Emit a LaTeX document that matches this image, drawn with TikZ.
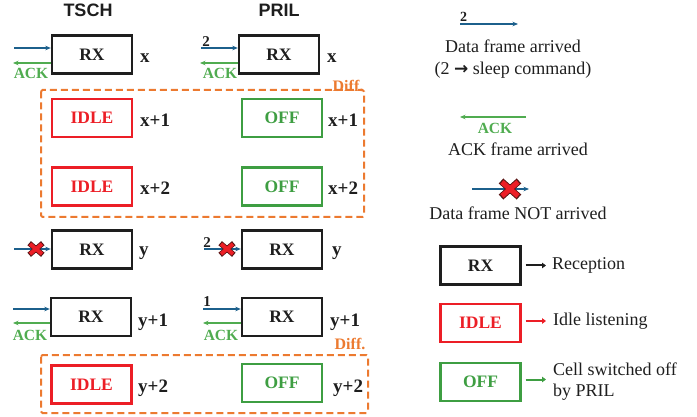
\documentclass[tikz,border=0pt]{standalone}
\usepackage{fontspec}
\setmainfont{Liberation Serif}
\newfontfamily\headfont{Liberation Sans}
\newfontfamily\symfont{DejaVu Sans}
\usetikzlibrary{arrows.meta,calc}
\definecolor{dblue}{RGB}{28,96,140}
\definecolor{ackgreen}{RGB}{80,172,80}
\definecolor{idred}{RGB}{236,30,38}
\definecolor{offgreen}{RGB}{62,158,66}
\definecolor{difforange}{RGB}{236,122,48}
\definecolor{boxblack}{RGB}{30,30,30}
\definecolor{xdark}{RGB}{90,20,20}
\tikzset{
  box/.style={draw, line width=2.4pt, minimum width=80pt, minimum height=38pt, inner sep=0pt, font=\fontsize{17.5}{20}\selectfont\bfseries},
  rxbox/.style={box, draw=boxblack, text=boxblack},
  idlebox/.style={box, draw=idred, text=idred},
  offbox/.style={box, draw=offgreen, text=offgreen},
  slot/.style={anchor=base west, inner sep=0pt, font=\fontsize{19}{22}\selectfont\bfseries, text=boxblack},
  head/.style={font=\headfont\fontsize{18}{20}\selectfont\bfseries, text=boxblack},
  data/.style={draw=dblue, line width=1.3pt, -{Stealth[length=5.5pt,width=4.5pt]}},
  ack/.style={draw=ackgreen, line width=1.3pt, -{Stealth[length=5.5pt,width=4.5pt]}},
  acklbl/.style={text=ackgreen, inner sep=0pt, font=\fontsize{15.5}{18}\selectfont\bfseries},
  numlbl/.style={text=boxblack, inner sep=0pt, font=\fontsize{15}{18}\selectfont\bfseries},
  diffbox/.style={draw=difforange, line width=2pt, dash pattern=on 7pt off 4pt, rounded corners=1.5pt},
  difflbl/.style={text=difforange, inner sep=0pt, font=\fontsize{16}{18}\selectfont\bfseries},
  legtxt/.style={text=boxblack, inner sep=0pt, font=\fontsize{18}{22}\selectfont},
  legarr/.style={line width=2pt, -{Triangle[length=4pt,width=5.5pt]}},
  xmark/.pic={
    \draw[line width=5.4pt, draw=xdark] (-6.8,-5.8) -- (6.8,5.8) (-6.8,5.8) -- (6.8,-5.8);
    \draw[line width=3.8pt, draw=idred] (-6,-5) -- (6,5) (-6,5) -- (6,-5);
  },
  bigxmark/.pic={
    \draw[line width=6.8pt, draw=xdark] (-9,-8) -- (9,8) (-9,8) -- (9,-8);
    \draw[line width=5pt, draw=idred] (-8,-7) -- (8,7) (-8,7) -- (8,-7);
  }
}
\begin{document}
\begin{tikzpicture}[x=1pt,y=-1pt]
\useasboundingbox (0,0) rectangle (697,417);

% headings
\node[head] (hT) at (88,10) {TSCH};
\node[head] (hP) at (279,10) {PRIL};

% difference boxes
\draw[diffbox] (41,90) rectangle (364,217);
\draw[diffbox] (41,355) rectangle (368,413);
\node[difflbl] (d1) at (348,86) {Diff.};
\node[difflbl] (d2) at (350,344) {Diff.};

% boxes TSCH
\node[rxbox]   (t0) at (92,54.5) {RX};
\node[idlebox] (t1) at (92,118) {IDLE};
\node[idlebox] (t2) at (92,186.5) {IDLE};
\node[rxbox]   (t3) at (92,249.5) {RX};
\node[rxbox]   (t4) at (91,317) {RX};
\node[idlebox] (t5) at (91.5,384.5) {IDLE};
% boxes PRIL
\node[rxbox]   (p0) at (279,54.5) {RX};
\node[offbox]  (p1) at (282,118) {OFF};
\node[offbox]  (p2) at (282,186.5) {OFF};
\node[rxbox]   (p3) at (282,249.5) {RX};
\node[rxbox]   (p4) at (282,317) {RX};
\node[offbox]  (p5) at (282,383) {OFF};

% slot labels
\node[slot] (lt0) at (140,63) {x};
\node[slot] (lt1) at (140,127) {x+1};
\node[slot] (lt2) at (140,195) {x+2};
\node[slot] (lt3) at (139,256) {y};
\node[slot] (lt4) at (138,326) {y+1};
\node[slot] (lt5) at (138,392) {y+2};
\node[slot] (lp0) at (327,63) {x};
\node[slot] (lp1) at (328,127) {x+1};
\node[slot] (lp2) at (328,195) {x+2};
\node[slot] (lp3) at (332,256) {y};
\node[slot] (lp4) at (330,326) {y+1};
\node[slot] (lp5) at (333,392) {y+2};

% row x arrows
\coordinate (t0in) at (14,48);
\coordinate (t0ack) at (13,63);
\draw[data] (t0in) -- (t0.west |- t0in);
\draw[ack] (t0.west |- t0ack) -- (t0ack);
\node[acklbl] (t0a) at (31,73) {ACK};

\coordinate (p0in) at (201,48);
\coordinate (p0ack) at (200,63);
\draw[data] (p0in) -- (p0.west |- p0in);
\draw[ack] (p0.west |- p0ack) -- (p0ack);
\node[numlbl] (p0n) at (206,42) {2};
\node[acklbl] (p0a) at (220,73) {ACK};

% row y arrows
\coordinate (t3in) at (14,249);
\draw[data] (t3in) -- (t3.west |- t3in);
\pic at (36,249) {xmark};

\coordinate (p3in) at (204,249);
\draw[data] (p3in) -- (p3.west |- p3in);
\node[numlbl] (p3n) at (207,243) {2};
\pic at (227,249) {xmark};

% row y+1 arrows
\coordinate (t4in) at (13,309);
\coordinate (t4ack) at (13,323);
\draw[data] (t4in) -- (t4.west |- t4in);
\draw[ack] (t4.west |- t4ack) -- (t4ack);
\node[acklbl] (t4a) at (30,335) {ACK};

\coordinate (p4in) at (203,309);
\coordinate (p4ack) at (203,323);
\draw[data] (p4in) -- (p4.west |- p4in);
\draw[ack] (p4.west |- p4ack) -- (p4ack);
\node[numlbl] (p4n) at (207,302) {1};
\node[acklbl] (p4a) at (221,335) {ACK};

% legend
\coordinate (g1s) at (460,24);
\coordinate (g1e) at (518,24);
\draw[data] (g1s) -- (g1e);
\node[numlbl, font=\fontsize{14}{16}\selectfont\bfseries] (g1n) at (463.5,17) {2};
\node[legtxt, align=center] (g1t) at (513,59) {Data frame arrived\\(2 {\symfont\bfseries\fontsize{17}{20}\selectfont →} sleep command)};

\coordinate (g2s) at (526,117);
\coordinate (g2e) at (460,117);
\draw[ack] (g2s) -- (g2e);
\node[acklbl] (g2a) at (495,128) {ACK};
\node[legtxt] (g2t) at (518,149) {ACK frame arrived};

\coordinate (g3s) at (472,189);
\coordinate (g3e) at (529,189);
\draw[data] (g3s) -- (g3e);
\pic at (510,189) {bigxmark};
\node[legtxt] (g3t) at (518,213) {Data frame NOT arrived};

\node[rxbox]   (lrx) at (480.5,265.5) {RX};
\node[idlebox] (lid) at (480.5,323) {IDLE};
\node[offbox]  (lof) at (480.5,382) {OFF};
\coordinate (lrxe) at (546,265.5);
\coordinate (lide) at (546,321);
\coordinate (lofe) at (546,379.5);
\draw[legarr, draw=boxblack] ([xshift=4pt]lrx.east |- lrxe) -- (lrxe);
\draw[legarr, draw=idred] ([xshift=4pt]lid.east |- lide) -- (lide);
\draw[legarr, draw=offgreen] ([xshift=4pt]lof.east |- lofe) -- (lofe);
\node[legtxt, anchor=west] (lrxt) at (552,265.5) {Reception};
\node[legtxt, anchor=west] (lidt) at (553,321.5) {Idle listening};
\node[legtxt, anchor=west, align=left, font=\fontsize{18}{21}\selectfont] (loft) at (553,382) {Cell switched off\\by PRIL};
\end{tikzpicture}
\end{document}
